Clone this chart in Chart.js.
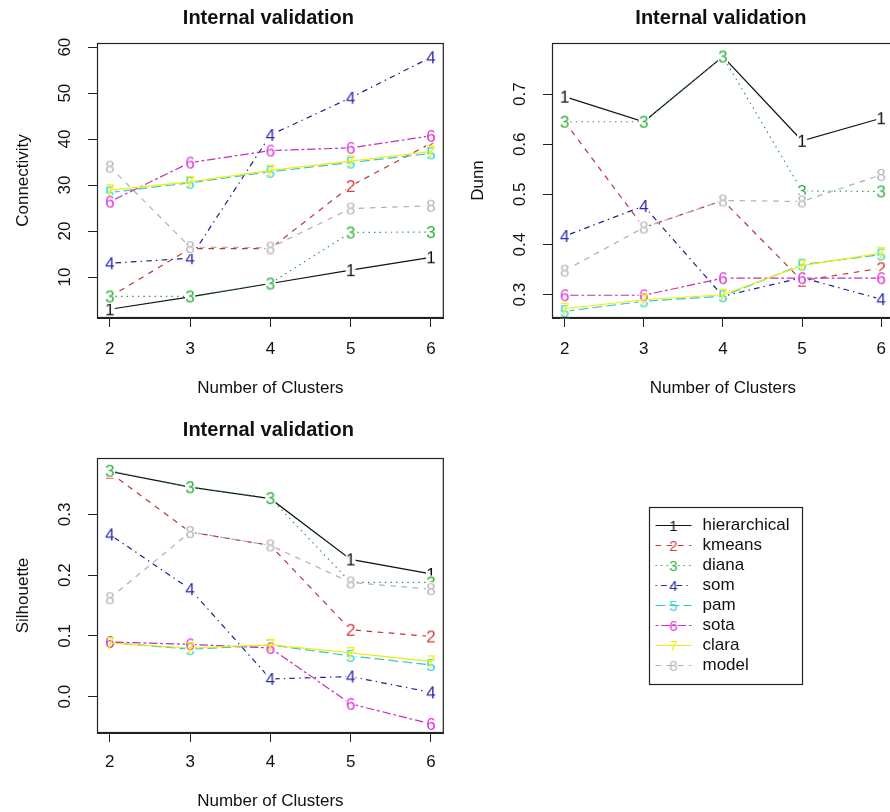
<!DOCTYPE html>
<html><head><meta charset="utf-8">
<script src="https://cdn.jsdelivr.net/npm/chart.js@4/dist/chart.umd.min.js"></script>
<style>
html,body{margin:0;padding:0;background:#fff;overflow:hidden;width:890px;height:812px;position:relative;}
canvas{position:absolute;}
</style></head><body>
<canvas id="c1" width="450" height="400" style="left:0;top:0"></canvas>
<canvas id="c2" width="455" height="400" style="left:445px;top:0"></canvas>
<canvas id="c3" width="450" height="412" style="left:0;top:400px"></canvas>
<canvas id="c4" width="400" height="230" style="left:640px;top:480px"></canvas>
<script>
// ---------- data ----------
const clusters = [2, 3, 4, 5, 6];
const methods = ['hierarchical', 'kmeans', 'diana', 'som', 'pam', 'sota', 'clara', 'model'];
const markers = ['1', '2', '3', '4', '5', '6', '7', '8'];

const connHierarchical = [3.0, 5.7, 8.6, 11.5, 14.3];
const connKmeans       = [5.7, 16.2, 16.2, 29.8, 39.1];
const connDiana        = [5.8, 5.8, 8.6, 19.7, 19.8];
const connSom          = [13.0, 14.1, 40.9, 49.0, 57.8];
const connPam          = [28.4, 30.5, 32.9, 34.9, 36.9];
const connSota         = [26.4, 34.9, 37.5, 38.1, 40.7];
const connClara        = [28.9, 30.7, 33.2, 35.2, 37.3];
const connModel        = [34.0, 16.5, 16.4, 24.9, 25.5];

const dunnHierarchical = [0.695, 0.645, 0.775, 0.607, 0.652];
const dunnKmeans       = [0.645, 0.434, 0.488, 0.328, 0.353];
const dunnDiana        = [0.645, 0.645, 0.775, 0.507, 0.506];
const dunnSom          = [0.417, 0.477, 0.297, 0.334, 0.291];
const dunnPam          = [0.267, 0.287, 0.297, 0.360, 0.380];
const dunnSota         = [0.299, 0.299, 0.333, 0.333, 0.333];
const dunnClara        = [0.272, 0.290, 0.300, 0.358, 0.383];
const dunnModel        = [0.348, 0.434, 0.488, 0.486, 0.539];

const silHierarchical = [0.371, 0.345, 0.326, 0.226, 0.202];
const silKmeans       = [0.369, 0.271, 0.249, 0.110, 0.099];
const silDiana        = [0.372, 0.345, 0.327, 0.188, 0.188];
const silSom          = [0.267, 0.177, 0.029, 0.033, 0.007];
const silPam          = [0.089, 0.078, 0.085, 0.067, 0.052];
const silSota         = [0.090, 0.086, 0.080, -0.012, -0.045];
const silClara        = [0.088, 0.080, 0.085, 0.072, 0.058];
const silModel        = [0.162, 0.271, 0.249, 0.188, 0.177];

const connTicks = [10, 20, 30, 40, 50, 60];
const connTickLabels = ['10', '20', '30', '40', '50', '60'];
const dunnTicks = [0.3, 0.4, 0.5, 0.6, 0.7];
const dunnTickLabels = ['0.3', '0.4', '0.5', '0.6', '0.7'];
const silTicks = [0.0, 0.1, 0.2, 0.3];
const silTickLabels = ['0.0', '0.1', '0.2', '0.3'];
const xTickLabels = ['2', '3', '4', '5', '6'];

// ---------- styles ----------
const FONT = '"Liberation Sans", Arial, Helvetica, sans-serif';
const markColors = ['#111111', '#d83a3a', '#30b040', '#2c2ca8', '#30d8d8', '#e030d8', '#f2f200', '#b8b8b8'];
const lineColors = ['#111111', '#b83838', '#2a9a3a', '#20208a', '#30c8c8', '#c030b8', '#ecec10', '#b0b0b0'];
const markerBg = [true, true, true, true, true, true, false, true];
const S = 1.4;
const dashes = [[], [4*S, 4*S], [1*S, 3*S], [1*S, 3*S, 4*S, 3*S], [7*S, 3*S], [2*S, 2*S, 6*S, 2*S], [], [4*S, 4*S]];

function digitImage(ch, color, bg) {
  const c = document.createElement('canvas');
  c.width = 12; c.height = 16;
  const g = c.getContext('2d');
  if (bg) { g.fillStyle = 'rgba(255,255,255,0.95)'; g.fillRect(1, 1, 10, 14); }
  g.font = '17px ' + FONT;
  g.textAlign = 'center';
  g.textBaseline = 'alphabetic';
  g.fillStyle = color;
  g.fillText(ch, 6, 14);
  return c;
}
function legendImage(i) {
  const c = document.createElement('canvas');
  c.width = 38; c.height = 16;
  const g = c.getContext('2d');
  g.strokeStyle = lineColors[i];
  g.lineWidth = 1.2;
  g.setLineDash(dashes[i]);
  g.beginPath(); g.moveTo(1, 8.5); g.lineTo(37, 8.5); g.stroke();
  g.font = '15px ' + FONT;
  g.textAlign = 'center';
  g.fillStyle = markColors[i];
  g.fillText(markers[i], 19, 14);
  return c;
}
const pointImgs = markers.map((m, i) => digitImage(m, markColors[i], markerBg[i]));
const legendImgs = markers.map((m, i) => legendImage(i));

function buildDatasets(seriesList) {
  return seriesList.map((vals, i) => ({
    label: methods[i],
    data: clusters.map((c, k) => ({ x: c, y: vals[k] })),
    borderColor: lineColors[i],
    backgroundColor: lineColors[i],
    borderWidth: 1.2,
    borderDash: dashes[i],
    pointStyle: pointImgs[i],
    pointRadius: 5,
    pointHoverRadius: 5,
    tension: 0,
    fill: false,
    clip: false,
    order: 7 - i
  }));
}

const decor = {
  id: 'decor',
  afterDraw(chart, args, o) {
    const ctx = chart.ctx, a = chart.chartArea;
    ctx.save();
    ctx.strokeStyle = '#222'; ctx.lineWidth = 1.2;
    ctx.strokeRect(a.left + 0.5, a.top + 0.5, a.right - a.left - 1, a.bottom - a.top - 1);
    ctx.fillStyle = '#111';
    ctx.font = 'bold 20px ' + FONT;
    ctx.textAlign = 'center'; ctx.textBaseline = 'alphabetic';
    ctx.fillText(o.title, (a.left + a.right) / 2 - 2, o.titleBaseline);
    const ys = chart.scales.y;
    ctx.font = '17px ' + FONT;
    ctx.textBaseline = 'middle';
    o.tickValues.forEach((v, k) => {
      const py = ys.getPixelForValue(v);
      ctx.save();
      ctx.translate(a.left - 32, py);
      ctx.rotate(-Math.PI / 2);
      ctx.fillText(o.tickLabels[k], 0, 0);
      ctx.restore();
    });
    ctx.restore();
  }
};

function panel(id, seriesList, cfg) {
  return new Chart(document.getElementById(id), {
    type: 'line',
    data: { datasets: buildDatasets(seriesList) },
    options: {
      responsive: false,
      animation: false,
      events: [],
      layout: { padding: { top: cfg.padTop, right: cfg.padRight, left: 0, bottom: 0 } },
      scales: {
        x: {
          type: 'linear', min: 1.84, max: 6.16,
          afterBuildTicks: s => { s.ticks = clusters.map(v => ({ value: v })); },
          afterFit: s => { s.height = cfg.xHeight; },
          ticks: { autoSkip: false, maxRotation: 0, font: { size: 17, family: FONT }, color: '#111', padding: cfg.xTickPad,
                   callback: (v) => xTickLabels[clusters.indexOf(v)] },
          grid: { drawOnChartArea: false, drawTicks: true, tickLength: 9, color: '#222', lineWidth: 1 },
          border: { display: true, color: '#222' },
          title: { display: true, text: 'Number of Clusters', font: { size: 17, family: FONT }, color: '#111', padding: { top: 0, bottom: cfg.xTitlePad } }
        },
        y: {
          type: 'linear', min: cfg.yMin, max: cfg.yMax,
          afterBuildTicks: s => { s.ticks = cfg.yTicks.map(v => ({ value: v })); },
          afterFit: s => { s.width = cfg.yWidth; },
          ticks: { display: false },
          grid: { drawOnChartArea: false, drawTicks: true, tickLength: 9, color: '#222', lineWidth: 1 },
          border: { display: true, color: '#222' },
          title: { display: true, text: cfg.yTitle, font: { size: 17, family: FONT }, color: '#111', padding: { top: cfg.yTitlePad, bottom: 0 } }
        }
      },
      plugins: {
        legend: { display: false },
        tooltip: { enabled: false },
        decor: { title: 'Internal validation', titleBaseline: cfg.titleBaseline, tickValues: cfg.yTicks, tickLabels: cfg.yTickLabels }
      }
    },
    plugins: [decor]
  });
}

panel('c1', [connHierarchical, connKmeans, connDiana, connSom, connPam, connSota, connClara, connModel], {
  padTop: 43, padRight: 5, xHeight: 82, xTitlePad: 1, xTickPad: 12, yWidth: 97, yTitlePad: 13,
  yMin: 1.1, yMax: 60.9, yTicks: connTicks, yTickLabels: connTickLabels, yTitle: 'Connectivity', titleBaseline: 24
});
panel('c2', [dunnHierarchical, dunnKmeans, dunnDiana, dunnSom, dunnPam, dunnSota, dunnClara, dunnModel], {
  padTop: 43, padRight: 3, xHeight: 82, xTitlePad: 1, xTickPad: 12, yWidth: 107, yTitlePad: 23,
  yMin: 0.2536, yMax: 0.802, yTicks: dunnTicks, yTickLabels: dunnTickLabels, yTitle: 'Dunn', titleBaseline: 24
});
panel('c3', [silHierarchical, silKmeans, silDiana, silSom, silPam, silSota, silClara, silModel], {
  padTop: 58, padRight: 5, xHeight: 79, xTitlePad: 0, xTickPad: 10, yWidth: 97, yTitlePad: 13,
  yMin: -0.060, yMax: 0.393, yTicks: silTicks, yTickLabels: silTickLabels, yTitle: 'Silhouette', titleBaseline: 36
});

// ---------- legend ----------
const legendBox = {
  id: 'legendBox',
  afterDraw(chart) {
    const hb = chart.legend.legendHitBoxes;
    if (!hb || !hb.length) return;
    let x0 = Infinity, y0 = Infinity, x1 = -Infinity, y1 = -Infinity;
    hb.forEach(h => { x0 = Math.min(x0, h.left); y0 = Math.min(y0, h.top); x1 = Math.max(x1, h.left + h.width); y1 = Math.max(y1, h.top + h.height); });
    const ctx = chart.ctx;
    ctx.save();
    ctx.strokeStyle = '#222'; ctx.lineWidth = 1.2;
    ctx.strokeRect(Math.round(x0 - 4) + 0.5, Math.round(y0 - 10) + 0.5, Math.round(x1 - x0 + 17), Math.round(y1 - y0 + 20));
    ctx.restore();
  }
};
new Chart(document.getElementById('c4'), {
  type: 'line',
  data: { datasets: methods.map((m, i) => ({ label: m, data: [], borderColor: lineColors[i], borderDash: dashes[i], pointStyle: pointImgs[i] })) },
  options: {
    responsive: false, animation: false, events: [],
    layout: { padding: { left: 10 } },
    scales: { x: { display: false }, y: { display: false } },
    plugins: {
      tooltip: { enabled: false },
      legend: {
        position: 'left', align: 'center',
        labels: {
          usePointStyle: true, pointStyleWidth: 41, padding: 3,
          font: { size: 17, family: FONT }, color: '#111',
          generateLabels: chart => chart.data.datasets.map((d, i) => ({
            text: d.label, pointStyle: legendImgs[i], fillStyle: '#fff', strokeStyle: '#fff',
            lineWidth: 0, hidden: false, datasetIndex: i, fontColor: '#111'
          }))
        }
      }
    }
  },
  plugins: [legendBox]
});
</script>
</body></html>
